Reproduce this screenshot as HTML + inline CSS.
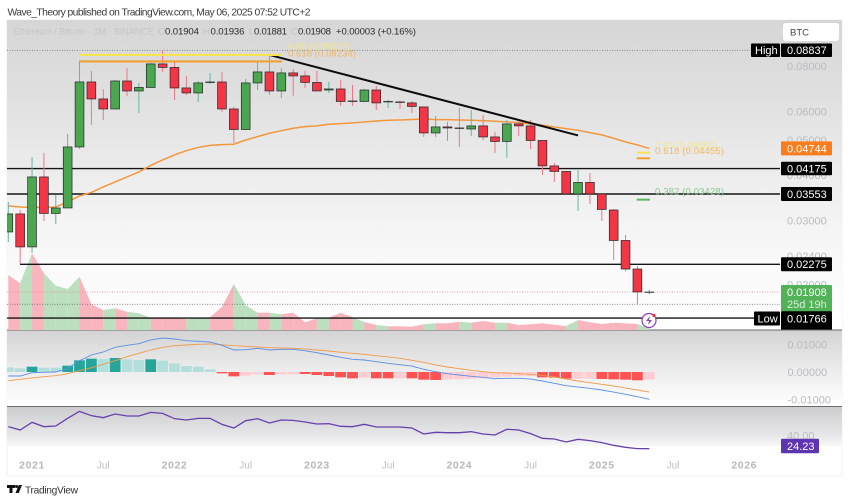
<!DOCTYPE html>
<html>
<head>
<meta charset="utf-8">
<style>
html,body{margin:0;padding:0;background:#fff;width:850px;height:502px;overflow:hidden}
svg{display:block;font-family:"Liberation Sans",sans-serif}
</style>
</head>
<body>
<svg id="chart" width="850" height="502" viewBox="0 0 850 502" xmlns="http://www.w3.org/2000/svg">
  <defs>
    <linearGradient id="gMain" x1="0" y1="0" x2="0" y2="1">
      <stop offset="0" stop-color="#d6d6d6"/><stop offset="0.25" stop-color="#e0e0e0"/><stop offset="0.5" stop-color="#ededed"/><stop offset="0.78" stop-color="#f9f9f9"/><stop offset="1" stop-color="#ffffff"/>
    </linearGradient>
    <linearGradient id="gMacd" x1="0" y1="0" x2="0" y2="1">
      <stop offset="0" stop-color="#d3d3d3"/><stop offset="0.5" stop-color="#ebebeb"/><stop offset="1" stop-color="#ffffff"/>
    </linearGradient>
    <linearGradient id="gRsi" x1="0" y1="0" x2="0" y2="1">
      <stop offset="0" stop-color="#cdcdd0"/><stop offset="0.7" stop-color="#e6e6e9"/><stop offset="1" stop-color="#f8f8f9"/>
    </linearGradient>
    <clipPath id="plotClip"><rect x="7" y="20" width="773" height="310"/></clipPath>
  </defs>

  <text x="7.5" y="15.5" font-size="10.3" fill="#3a3a3a" textLength="303" lengthAdjust="spacing">Wave_Theory published on TradingView.com, May 06, 2025 07:52 UTC+2</text>

  <rect x="7" y="20" width="835" height="456" fill="#ffffff" stroke="#f1f1f1"/>
  <rect x="7" y="20" width="835" height="310" fill="url(#gMain)"/>
  <rect x="7" y="330" width="835" height="76" fill="url(#gMacd)"/>
  <rect x="7" y="407" width="835" height="39" fill="url(#gRsi)"/>
  <rect x="7" y="329.5" width="835" height="1" fill="#6a6a6a"/>
  <rect x="7" y="406" width="835" height="1" fill="#6a6a6a"/>

  <g id="volumeLayer" clip-path="url(#plotClip)"></g>
  <g id="levelLayer"></g>
  <g id="emaLayer" clip-path="url(#plotClip)"></g>
  <g id="candleLayer" clip-path="url(#plotClip)"></g>
  <g id="drawLayer"></g>
  <g id="macdLayer"></g>
  <g id="rsiLayer"></g>
  <g id="axisLayer"></g>
  <g id="tagLayer"></g>

  <g font-size="9.6">
    <text x="13" y="34.5" fill="#c6c6c6" font-size="9.3" textLength="141" lengthAdjust="spacing">Ethereum / Bitcoin · 1M · BINANCE</text>
    <text x="158" y="34.5" fill="#c6c6c6">O</text>
    <text x="165" y="34.5" fill="#2b2b2b" textLength="34" lengthAdjust="spacing">0.01904</text>
    <text x="203" y="34.5" fill="#c6c6c6">H</text>
    <text x="210.5" y="34.5" fill="#2b2b2b" textLength="34" lengthAdjust="spacing">0.01936</text>
    <text x="249" y="34.5" fill="#c6c6c6">L</text>
    <text x="254" y="34.5" fill="#2b2b2b" textLength="33" lengthAdjust="spacing">0.01881</text>
    <text x="291" y="34.5" fill="#c6c6c6">C</text>
    <text x="298" y="34.5" fill="#2b2b2b" textLength="33" lengthAdjust="spacing">0.01908</text>
    <text x="336" y="34.5" fill="#2b2b2b" textLength="80" lengthAdjust="spacing">+0.00003 (+0.16%)</text>
  </g>

  <g>
    <rect x="783" y="23" width="56" height="18" rx="3" fill="#ffffff"/>
    <text x="790" y="35.5" font-size="9.5" fill="#444">BTC</text>
  </g>

  <g>
    <circle cx="649" cy="320.5" r="7" fill="#ffffff" stroke="#8e3fc0" stroke-width="1.2"/>
    <polygon points="650,316 646,321 649,321 648,325 652,320 649,320" fill="#8e3fc0"/>
    <circle cx="654" cy="315.5" r="1.6" fill="#f0323c"/>
  </g>

  <g>
    <path d="M7 485h8v3h-2.5v5h-3v-5H7zM15.5 493l3.2-8H22l-3.2 8z" fill="#111"/>
    <circle cx="16.5" cy="486.5" r="1.5" fill="#111"/>
    <text x="25" y="493.5" font-size="10.2" fill="#333" textLength="53" lengthAdjust="spacing">TradingView</text>
  </g>
</svg>

<script>
// ---- price data (monthly candles, Nov 2020 .. May 2025) ----
const opens = [.02793,.03131,.02540,.03959,.03141,.03252,.04788,.07230,.06491,.06092,.07275,.06829,
.06983,.08106,.07928,.06961,.06744,.07207,.07230,.06092,.05349,.07185,.07704,.06829,
.07656,.07512,.07208,.06871,.06916,.06409,.06389,.06871,.06370,.06370,.06330,.06171,
.05233,.05436,.05401,.05366,.05471,.05102,.04958,.05541,.05471,.04989,.04245,.04099,
.03554,.03823,.03554,.03210,.02646,.02208,.01904];
const highs = [.03378,.03210,.04494,.04610,.03532,.05200,.08208,.07752,.06916,.07320,.07902,.07185,
.08157,.08854,.08259,.07512,.07275,.07656,.07704,.06171,.07368,.08208,.08582,.07902,
.07851,.07752,.07752,.07230,.07320,.07095,.06916,.07051,.06449,.06409,.06409,.06171,
.05829,.05611,.06131,.06052,.05866,.05266,.05681,.05646,.05681,.05004,.04327,.04112,
.04137,.04061,.03554,.03230,.02741,.02251,.01936];
const lows = [.02621,.02280,.02445,.02994,.02939,.03252,.04727,.05506,.05681,.06092,.06618,.05941,
.06961,.07704,.06449,.06660,.06370,.07140,.05978,.04912,.05331,.06871,.06660,.06533,
.06618,.06961,.06829,.06744,.06211,.06211,.06370,.06052,.06131,.06092,.05941,.05102,
.05102,.04973,.04788,.05135,.05004,.04610,.04466,.05135,.04727,.04010,.03835,.03554,
.03190,.03336,.02994,.02338,.02181,.01759,.01881];
const closes = [.03131,.02540,.03959,.03141,.03252,.04788,.07230,.06491,.06092,.07275,.06829,.06983,
.08106,.07928,.06961,.06744,.07185,.07230,.06092,.05349,.07185,.07704,.06829,.07656,
.07512,.07208,.06829,.06916,.06389,.06389,.06871,.06330,.06389,.06350,.06191,.05233,
.05436,.05401,.05384,.05471,.05102,.04958,.05541,.05471,.04989,.04245,.04099,.03554,
.03823,.03554,.03221,.02646,.02208,.01909,.01908];
const emaValues = [.03294,.03273,.03263,.03263,.03273,.03378,.03510,.03588,.03716,.03835,.03959,.04086,
.04259,.04408,.04552,.04676,.04773,.04836,.04859,.04872,.05004,.05111,.05223,.05308,
.05391,.05447,.05471,.05530,.05552,.05576,.05611,.05646,.05671,.05681,.05699,.05718,
.05692,.05692,.05681,.05671,.05657,.05635,.05611,.05587,.05541,.05496,.05436,.05377,
.05321,.05243,.05168,.05060,.04942,.04850,.04744];
const volumes = [550,467,767,567,443,410,533,257,200,217,183,167,
123,123,123,107,117,127,233,460,250,173,173,157,
173,77,117,123,173,127,80,50,37,37,33,57,
67,67,83,73,90,73,73,50,57,67,53,40,
100,77,60,73,67,60,17];
// ---- MACD ----
const macdLine = [-.00145,-.00145,-.00024,-.00012,0,.00133,.00411,.00616,.00725,.00894,.00966,.01027,
.01160,.01232,.01196,.01135,.01111,.01087,.00966,.00797,.00809,.00858,.00797,.00821,
.00821,.00773,.00700,.00616,.00531,.00459,.00435,.00374,.00314,.00266,.00217,.00097,
.00012,-.00060,-.00109,-.00157,-.00193,-.00242,-.00230,-.00230,-.00254,-.00326,-.00411,-.00495,
-.00544,-.00592,-.00652,-.00725,-.00809,-.00894,-.00991];
const signalLine = [-.00314,-.00266,-.00217,-.00169,-.00133,-.00060,.00048,.00157,.00278,.00411,.00556,.00676,
.00797,.00894,.00954,.00978,.01003,.01015,.00991,.00954,.00930,.00906,.00882,.00870,
.00858,.00834,.00797,.00761,.00713,.00676,.00640,.00592,.00544,.00495,.00423,.00350,
.00254,.00181,.00121,.00060,.00012,-.00024,-.00036,-.00060,-.00085,-.00121,-.00181,-.00254,
-.00326,-.00387,-.00447,-.00507,-.00580,-.00652,-.00725];
const histValues = [.00169,.00133,.00193,.00157,.00157,.00230,.00423,.00483,.00471,.00507,.00459,.00435,
.00459,.00411,.00314,.00217,.00193,.00097,-.00048,-.00157,-.00133,-.00085,-.00109,-.00085,
-.00085,-.00072,-.00109,-.00145,-.00193,-.00230,-.00205,-.00230,-.00230,-.00230,-.00230,-.00278,
-.00290,-.00266,-.00266,-.00242,-.00230,-.00193,-.00169,-.00145,-.00145,-.00193,-.00205,-.00242,
-.00242,-.00242,-.00254,-.00266,-.00278,-.00302,-.00278];
const histStrong = [0,0,1,0,0,1,1,1,0,1,0,0,
1,0,0,0,0,0,1,1,0,0,1,0,
0,1,1,1,1,1,0,1,1,0,1,1,
1,0,0,0,0,0,0,0,0,1,1,1,
0,0,1,1,1,1,0];
// ---- RSI ----
const rsiValues = [50.55,46.57,55.72,50.55,51.34,60.50,68.86,63.68,61.29,65.67,63.28,63.28,
67.66,66.47,60.10,58.51,60.50,60.50,53.33,48.96,57.71,60.10,54.93,58.51,
58.11,56.12,53.73,54.13,50.95,50.55,53.33,50.15,50.15,50.15,48.96,41.79,
43.78,43.38,43.38,44.58,41.79,40.60,47.36,46.57,42.19,36.62,35.82,32.24,
35.42,33.83,31.44,28.26,25.87,24.28,24.23];
// ---- axis labels & levels ----
const priceTicks = [0.08,0.06,0.05,0.04,0.03,0.024,0.02];
const macdTicks = [0.01,0,-0.01];
const rsiTicks = [40];
const timeLabels = ['2021','Jul','2022','Jul','2023','Jul','2024','Jul','2025','Jul','2026'];
const timeLabelMonths = [2,8,14,20,26,32,38,44,50,56,62];
const supportLevels = [0.04175,0.03553,0.02275,0.01618];
const trendIndex = [22,48];
const trendPrice = [0.08582,0.05150];

// ---- axis functions ----
function xTime(i){return 8.3+i*11.87;}
function yPrice(p){return 66+157.7*Math.log(0.08/p);}
function yVol(v){return 330-v*0.1;}
function yMacd(v){return 372-v*2760;}
function yRsi(v){return 435.5+(40-v)*0.837;}

const NS='http://www.w3.org/2000/svg';
function mk(tag,attrs,parent,txt){
  const e=document.createElementNS(NS,tag);
  for(const k in attrs){e.setAttribute(k,attrs[k]);}
  if(txt!==undefined){e.textContent=txt;}
  parent.appendChild(e);
  return e;
}
const volumeLayer=document.getElementById('volumeLayer');
const levelLayer=document.getElementById('levelLayer');
const emaLayer=document.getElementById('emaLayer');
const candleLayer=document.getElementById('candleLayer');
const drawLayer=document.getElementById('drawLayer');
const macdLayer=document.getElementById('macdLayer');
const rsiLayer=document.getElementById('rsiLayer');
const axisLayer=document.getElementById('axisLayer');
const tagLayer=document.getElementById('tagLayer');

// volume: each band runs from previous month to this one, coloured by this candle
for(let i=1;i<volumes.length;i++){
  const up=closes[i]>=opens[i];
  const pts=[xTime(i-1)+','+330,xTime(i-1)+','+yVol(volumes[i-1]),xTime(i)+','+yVol(volumes[i]),xTime(i)+','+330].join(' ');
  const band=mk('polygon',{points:pts,fill:up?'#bcdfc0':'#f9b5bd'},volumeLayer);
  
  
}

// dotted reference lines
const highDot=mk('line',{x1:7,x2:751,y1:yPrice(0.08837),y2:yPrice(0.08837),stroke:'#777',"stroke-width":0.8,"stroke-dasharray":"1 1.5"},levelLayer);


const lastDot=mk('line',{x1:7,x2:780,y1:yPrice(closes[closes.length-1]),y2:yPrice(closes[closes.length-1]),stroke:'#ee8f98',"stroke-width":0.8,"stroke-dasharray":"1 1.5"},levelLayer);


const lowDot=mk('line',{x1:7,x2:780,y1:yPrice(0.01766),y2:yPrice(0.01766),stroke:'#666',"stroke-width":0.8,"stroke-dasharray":"1 1.5"},levelLayer);



// horizontal support / resistance lines
supportLevels.forEach(function(p,idx){
  const l=mk('line',{x1:idx===2?20:7,x2:780,y1:yPrice(p),y2:yPrice(p),stroke:'#151515',"stroke-width":1.4},levelLayer);
  
  
});

// EMA
const ema=mk('polyline',{points:emaValues.map(function(v,i){return xTime(i)+','+yPrice(v);}).join(' '),fill:'none',stroke:'#f4973a',"stroke-width":1.5},emaLayer);



// candles
opens.forEach(function(o,i){
  const c=closes[i],up=c>=o,x=xTime(i);
  const wick=mk('line',{x1:x,x2:x,y1:yPrice(highs[i]),y2:yPrice(lows[i]),stroke:up?'#62b89b':'#ee7684',"stroke-width":1},candleLayer);
  
  
  const top=yPrice(Math.max(o,c)),bot=yPrice(Math.min(o,c));
  const body=mk('rect',{x:x-4.4,y:top,width:8.8,height:Math.max(bot-top,0.3),fill:up?'#4aa64f':'#f23645',stroke:'#26262a',"stroke-width":0.7},candleLayer);
  
  
});

// trend line
const trend=mk('line',{x1:xTime(trendIndex[0]),y1:yPrice(trendPrice[0]),x2:xTime(trendIndex[1]),y2:yPrice(trendPrice[1]),stroke:'#0c0c0c',"stroke-width":2},drawLayer);



// fib bands
const fibYellowTop=mk('line',{x1:79,x2:282,y1:yPrice(0.08582),y2:yPrice(0.08582),stroke:'#f7e34f',"stroke-width":2.2},drawLayer);


const fibOrangeTop=mk('line',{x1:79,x2:282,y1:yPrice(0.08234),y2:yPrice(0.08234),stroke:'#f2a02f',"stroke-width":2.2},drawLayer);


const fibYellowLow=mk('line',{x1:636.7,x2:650,y1:yPrice(0.04618),y2:yPrice(0.04618),stroke:'#f7e34f',"stroke-width":2},drawLayer);


const fibOrangeLow=mk('line',{x1:636.7,x2:650,y1:yPrice(0.04455),y2:yPrice(0.04455),stroke:'#f2a02f',"stroke-width":2},drawLayer);


const fibGreen=mk('line',{x1:636.7,x2:650,y1:yPrice(0.03428),y2:yPrice(0.03428),stroke:'#5eb562',"stroke-width":2},drawLayer);



const fibY1=mk('text',{x:288,y:49.5,"font-size":9.5,fill:'#f3e58a',textLength:62,lengthAdjust:'spacing'},drawLayer,'0.65 (0.08677)');


const fibO1=mk('text',{x:288,y:56.5,"font-size":9.5,fill:'#efb967',textLength:68,lengthAdjust:'spacing'},drawLayer,'0.618 (0.08234)');


const fibY2=mk('text',{x:655,y:148.5,"font-size":9.5,fill:'#f3e58a',textLength:62,lengthAdjust:'spacing'},drawLayer,'0.65 (0.04556)');


const fibO2=mk('text',{x:655,y:154,"font-size":9.5,fill:'#efb967',textLength:69,lengthAdjust:'spacing'},drawLayer,'0.618 (0.04455)');


const fibG=mk('text',{x:655,y:194.5,"font-size":9.5,fill:'#8cc68f',textLength:69,lengthAdjust:'spacing'},drawLayer,'0.382 (0.03428)');



// MACD histogram
histValues.forEach(function(v,i){
  const pos=v>=0;
  const col=pos?(histStrong[i]?'#26a69a':'#b2dfdb'):(histStrong[i]?'#ff5252':'#ffcdd2');
  const y0=yMacd(0),y1=yMacd(v);
  const left=Math.max(7,xTime(i)-5.4);
  const bar=mk('rect',{x:left,y:Math.min(y0,y1),width:xTime(i)+5.4-left,height:Math.abs(y1-y0),fill:col},macdLayer);
  
  
});
const sig=mk('polyline',{points:signalLine.map(function(v,i){return Math.max(7,xTime(i))+','+yMacd(v);}).join(' '),fill:'none',stroke:'#f29a4a',"stroke-width":0.9},macdLayer);


const mac=mk('polyline',{points:macdLine.map(function(v,i){return Math.max(7,xTime(i))+','+yMacd(v);}).join(' '),fill:'none',stroke:'#5c8fe6',"stroke-width":0.9},macdLayer);



// RSI
const rsi=mk('polyline',{points:rsiValues.map(function(v,i){return Math.max(7,xTime(i))+','+yRsi(v);}).join(' '),fill:'none',stroke:'#6540ad',"stroke-width":1.3},rsiLayer);



// axis ticks
priceTicks.forEach(function(p){
  const t=mk('text',{x:787,y:yPrice(p)+3.9,"font-size":11,fill:'#b9bbc0'},axisLayer,p.toFixed(5));
  
  
});
macdTicks.forEach(function(v){
  const t=mk('text',{x:787.5,y:yMacd(v)+3.9,"font-size":11,fill:'#b9bbc0'},axisLayer,(v<0?'-':'')+Math.abs(v).toFixed(5));
  
  
});
rsiTicks.forEach(function(v){
  const t=mk('text',{x:787,y:yRsi(v)+3.9,"font-size":11,fill:'#b9bbc0'},axisLayer,v.toFixed(2));
  
  
});
timeLabels.forEach(function(s,i){
  const yr=s!=='Jul';
  const t=mk('text',{x:xTime(timeLabelMonths[i]),y:468.5,"font-size":yr?10.5:10,"font-weight":yr?'bold':'normal',"letter-spacing":yr?0.6:0,"text-anchor":'middle',fill:yr?'#b7b7b7':'#bdbdbd'},axisLayer,s);
  
  
});

// price tags
function tag(cy,label,bg,x,w,h,pad){
  const g=mk('g',{},tagLayer);
  mk('rect',{x:x,y:cy-h/2,width:w,height:h,rx:1,fill:bg},g);
  mk('text',{x:x+pad,y:cy+3.9,"font-size":11,fill:'#ffffff'},g,label);
  return g;
}
const tagHigh=tag(yPrice(0.08837),'0.08837','#000',781,51,13.5,6);


const tagHighName=tag(yPrice(0.08837),'High','#000',751,29,13.5,4);


const tagEma=tag(yPrice(emaValues[emaValues.length-1]),'0.04744','#f97c1d',781,51,14,6);


const tagA=tag(yPrice(supportLevels[0]),'0.04175','#000',781,51,13.5,6);


const tagB=tag(yPrice(supportLevels[1]),'0.03553','#000',781,51,14,6);


const tagC=tag(yPrice(supportLevels[2]),'0.02275','#000',781,51,14,6);



const sliver=mk('rect',{x:781,y:325,width:51,height:4.5,fill:'#000'},tagLayer);



const lastBox=mk('rect',{x:781,y:285,width:51,height:27,rx:1,fill:'#52b257'},tagLayer);


const lastVal=mk('text',{x:787,y:296,"font-size":11,fill:'#ffffff'},tagLayer,'0.01908');


const lastCd=mk('text',{x:787,y:308,"font-size":11,fill:'#d8f0da'},tagLayer,'25d 19h');



const tagLow=tag(318.5,'0.01766','#000',781,51,14.5,6);


const tagLowName=tag(318.5,'Low','#000',754,26,14,3.5);



const tagRsi=tag(446,'24.23','#5e35b1',781,38,14.5,6);


</script>
</body>
</html>
